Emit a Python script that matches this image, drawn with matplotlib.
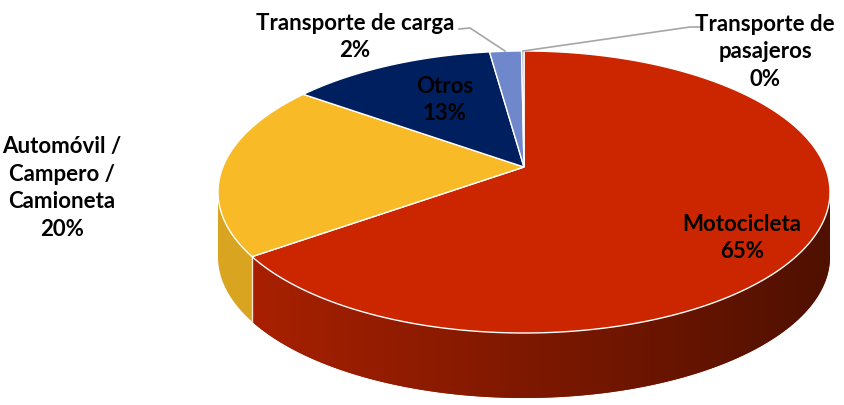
import numpy as np
import matplotlib.pyplot as plt
from matplotlib.patches import Polygon
from matplotlib.colors import LinearSegmentedColormap

# Datos
labels = ["Motocicleta", "Automóvil /\nCampero /\nCamioneta", "Otros",
          "Transporte de carga", "Transporte de\npasajeros"]
values = [65.0, 20.0, 12.85, 2.0, 0.15]
pct_text = ["65%", "20%", "13%", "2%", "0%"]
top_colors = ["#CC2600", "#F8BB27", "#001F5F", "#6E88CB", "#A5A5A5"]
side_colors = ["#A82000", "#D9A520", "#00143F", "#4F68A8", "#808080"]

plt.rcParams['font.family'] = ['Lato', 'DejaVu Sans']

fig = plt.figure(figsize=(8.44, 4.06), dpi=100)
ax = fig.add_axes([0, 0, 1, 1])
ax.set_xlim(0, 844)
ax.set_ylim(406, 0)
ax.axis("off")

# geometria del pastel en perspectiva (pixeles)
ex, ey, rx, ry = 524, 193, 306, 141
depth = 65
t = 0.177


def project(theta):
    u, v = np.cos(theta), np.sin(theta)
    d = 1 + t * v
    X = u * np.sqrt(1 - t * t) / d
    Y = (v + t) / d
    return ex + rx * X, ey - ry * Y


apex = (ex, ey - ry * t)

fracs = np.array(values) / sum(values)
bounds = np.concatenate([[0], np.cumsum(fracs)])
angles = np.pi / 2 - 2 * np.pi * bounds   # desde las 12, sentido horario

# pared lateral (solo la parte frontal)
for i in range(len(values)):
    th = np.linspace(angles[i], angles[i + 1], 400)
    xs, ys = project(th)
    front = ys >= ey - 0.5
    if front.sum() < 2:
        continue
    xs, ys = xs[front], ys[front]
    pts = list(zip(xs, ys)) + list(zip(xs[::-1], ys[::-1] + depth))
    side = Polygon(pts, closed=True, facecolor=side_colors[i],
                   edgecolor="none", zorder=1)
    ax.add_patch(side)
    if i == 0:
        # degradado horizontal del rojo
        cmap = LinearSegmentedColormap.from_list(
            "side", ["#A82000", "#7C1800", "#4F1000"])
        grad = np.linspace(0, 1, 256).reshape(1, -1)
        im = ax.imshow(grad, cmap=cmap, aspect="auto", zorder=1.5,
                       extent=[252, 830, 406, 150], interpolation="bilinear")
        im.set_clip_path(side)

# linea blanca en la union lateral amarillo/rojo
bx, by = project(angles[1])
ax.plot([bx, bx], [by, by + depth], color="#F5E6D0", lw=1, zorder=2)

# cara superior
for i in range(len(values)):
    th = np.linspace(angles[i], angles[i + 1], 300)
    xs, ys = project(th)
    pts = [apex] + list(zip(xs, ys))
    ax.add_patch(Polygon(pts, closed=True, facecolor=top_colors[i],
                         edgecolor="white", linewidth=1, zorder=3))

ax.set_xlim(0, 844)
ax.set_ylim(406, 0)

# etiquetas
font = dict(fontsize=16, fontweight="bold", color="black", ha="center",
            va="center", linespacing=1.4, zorder=5)
ax.text(742, 238, labels[0] + "\n" + pct_text[0], **font)
ax.text(62, 188, labels[1] + "\n" + pct_text[1], **font)
ax.text(445, 100, labels[2] + "\n" + pct_text[2], **font)
ax.text(355, 37, labels[3] + "\n" + pct_text[3], **font)
ax.text(765, 52, labels[4] + "\n" + pct_text[4], **font)

# lineas guia
ax.plot([459, 470, 505], [30, 29, 52], color="#A6A6A6", lw=1.2, zorder=4)
ax.plot([523, 690, 700], [52, 28, 28], color="#A6A6A6", lw=1.2, zorder=4)

fig.savefig("out.png", dpi=100)
